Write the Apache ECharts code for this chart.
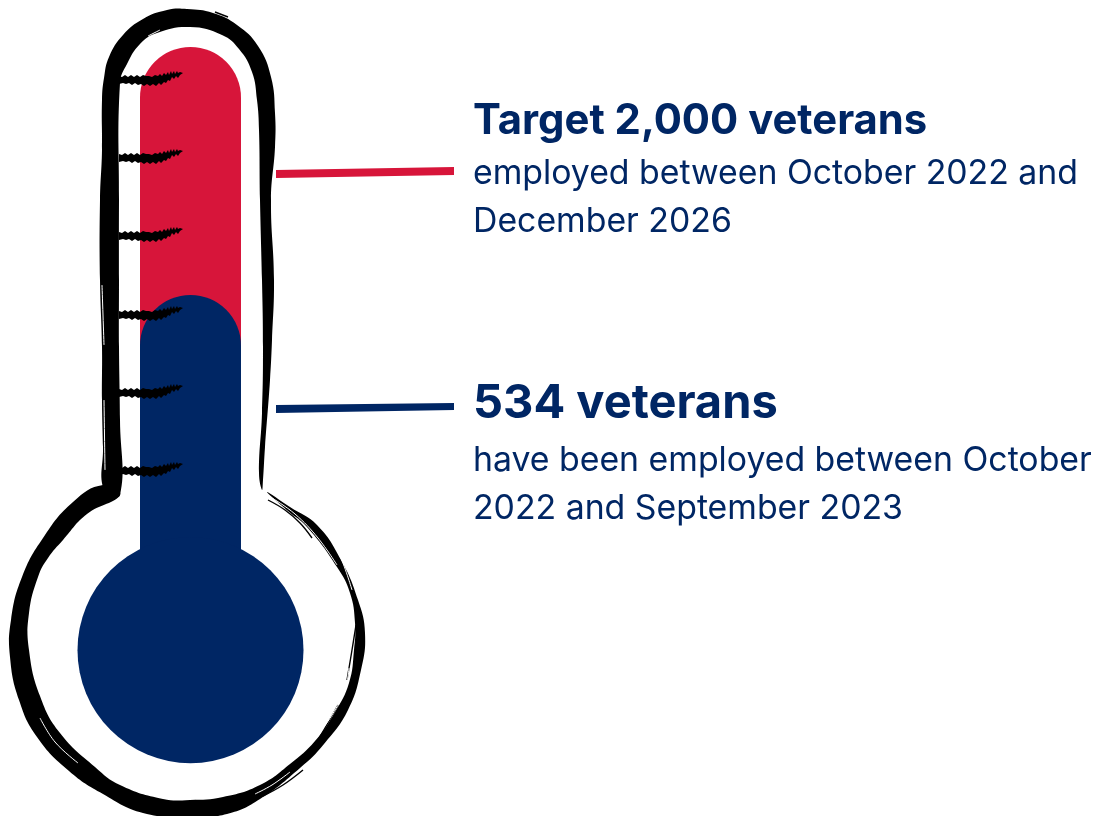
<!DOCTYPE html>
<html>
<head>
<meta charset="utf-8">
<title>Veterans employment thermometer</title>
<style>
  html, body { margin: 0; padding: 0; background: #fff; }
  #chart { width: 1095px; height: 816px; }
</style>
<script src="https://cdn.jsdelivr.net/npm/echarts@6/dist/echarts.min.js"></script>
</head>
<body>
<div id="chart"></div>
<script>
// Headline figures
var seriesNames = ['Target', 'Employed so far'];
var seriesValues = [2000, 534];
var categories = ['Veterans'];

// Value scale of the tube; the bulb sits below the zero line
var axisMin = -2232;
var axisMax = 2000;
var bulbCentre = -1565;

// Copy beside the thermometer
var targetLines = ['Target 2,000 veterans', 'employed between October 2022 and', 'December 2026'];
var currentLines = ['534 veterans', 'have been employed between October', '2022 and September 2023'];

var NAVY = '#002664';
var RED = '#D7153A';
var INK = '#000000';
var FONT = 'Inter, "Noto Sans", sans-serif';
var TUBE_WIDTH = 101;

// Brush outline of the tube, outer edge then inner edge
var tubeOutline = [
  [104,490],[103,447],[102,400],[102,347],[100,280],[100,200],[102,150],[102,100],[104,78],[109,57],[123,35],[143,19],
  [167,10],[187,9],[213,13],[237,25],[258,46],[271,77],[275,113],[275,147],[271,200],[274,280],[272,340],[270,380],
  [265,447],[263,480],[262,490],
  [259,473],[262,413],[263,347],[262,280],[260,200],[259,130],[257,100],[252,72],[239,49],[222,35],[190,27],[157,33],
  [140,44],[127,64],[120,83],[119,200],[119,280],[119,347],[120,420],[120,495]
];

// Brush outline of the bulb, outer edge then inner edge
var bulbOutline = [
  [103,485],[73,502],[43,538],[22,577],[11,620],[10,657],[19,700],[37,737],[69,771],[103,794],[143,813],
  [190,817],[227,814],[260,799],[300,768],[324,744],[348,710],[361,670],[365,633],[358,600],[341,560],
  [317,525],[290,507],[267,492],
  [288,511],[307,527],[337,567],[350,593],[355,623],[354,650],[349,683],[335,712],[315,741],[290,764],
  [260,785],[223,797],[190,800],[163,799],[120,785],[95,767],[60,733],[40,696],[29,650],[29,613],[38,577],
  [48,558],[63,540],[87,514],[120,495]
];

// Loose bristle strands that stray off the main stroke
var strayStrands = [
  [[268,500],[285,510],[300,523],[312,538]],
  [[314,526],[327,545],[338,565]],
  [[356,625],[352,650],[347,680]],
  [[338,705],[325,728],[315,745]],
  [[303,770],[283,785],[263,796]],
  [[263,150],[262,170]],
  [[215,12],[228,17]]
];

// Dry-brush streaks cut out of the strokes
var brushStreaks = [
  [[272,498],[295,514],[318,538],[337,565]],
  [[325,530],[340,556],[352,590]],
  [[349,668],[345,690],[332,715],[318,735]],
  [[290,772],[272,785],[255,794]],
  [[40,718],[55,742],[78,763]],
  [[102,285],[104,345]],
  [[104,400],[105,470]],
  [[148,36],[160,30]]
];

// Jagged scale mark, top edge left to right then bottom edge back
var tickShape = [
  [0,-4],[3,-3],[6,-5],[9,-3],[12,-5],[15,-3],[18,-5],[21,-3],[24,-5],[27,-4],[30,-4],[33,-3],[36,-5],[39,-4],
  [41,-6],[43,-4],[45,-7],[47,-5],[49,-8],[50,-5],[52,-9],[53,-6],[55,-9],[56,-6],[58,-9],[59,-7],[61,-8],[64,-7],
  [61,-5],[59,-2],[57,-4],[55,-1],[53,-3],[51,1],[49,0],[47,3],[45,2],[42,5],[40,3],[37,6],[34,4],[31,6],[28,4],
  [25,6],[22,4],[19,5],[16,3],[13,5],[10,3],[7,4],[4,3],[0,4]
];
var tickRows = [80, 158, 236, 315, 393, 471];

var graphics = [];
graphics.push({ type: 'polygon', z: 10, shape: { points: tubeOutline, smooth: 0.45 }, style: { fill: INK } });
graphics.push({ type: 'polygon', z: 10, shape: { points: bulbOutline, smooth: 0.45 }, style: { fill: INK } });
strayStrands.forEach(function (pts) {
  graphics.push({ type: 'polyline', z: 10, shape: { points: pts, smooth: 0.4 },
    style: { stroke: INK, lineWidth: 1.4, fill: null } });
});
brushStreaks.forEach(function (pts) {
  graphics.push({ type: 'polyline', z: 11, shape: { points: pts, smooth: 0.4 },
    style: { stroke: '#fff', lineWidth: 1, fill: null } });
});
tickRows.forEach(function (y) {
  graphics.push({ type: 'polygon', z: 12, x: 119, y: y, shape: { points: tickShape }, style: { fill: INK } });
});

// Leader lines from the tube to the captions
graphics.push({ type: 'polygon', z: 5, shape: { points: [[276,170],[454,167],[454,175],[276,178]] }, style: { fill: RED } });
graphics.push({ type: 'polygon', z: 5, shape: { points: [[276,405],[454,403],[454,410],[276,413]] }, style: { fill: NAVY } });

// Each entry: text line, top of its box, font
function caption(lines, tops, headSize) {
  lines.forEach(function (text, i) {
    graphics.push({
      type: 'text', z: 5, x: 473, y: tops[i],
      style: {
        text: text, fill: NAVY, verticalAlign: 'top', align: 'left',
        font: (i === 0 ? '700 ' + headSize + 'px ' : '400 33.8px ') + FONT
      }
    });
  });
}
caption(targetLines, [100, 157, 205], 41.8);
caption(currentLines, [380, 444, 492], 47);

// Rounded tube running from the bulb centre up to the value
function renderTube(params, api) {
  var top = api.coord([api.value(0), api.value(1)]);
  var base = api.coord([api.value(0), bulbCentre]);
  return {
    type: 'rect',
    shape: {
      x: top[0] - TUBE_WIDTH / 2, y: top[1], width: TUBE_WIDTH, height: base[1] - top[1],
      r: [TUBE_WIDTH / 2, TUBE_WIDTH / 2, 0, 0]
    },
    style: { fill: params.dataIndex === 0 ? RED : NAVY }
  };
}

var chart = echarts.init(document.getElementById('chart'));
chart.setOption({
  animation: false,
  backgroundColor: '#fff',
  grid: { left: 78, width: 225, top: 47, height: 716 },
  xAxis: { type: 'category', data: categories, show: false },
  yAxis: { type: 'value', min: axisMin, max: axisMax, show: false },
  series: [
    {
      name: seriesNames.join(' / '), type: 'custom', renderItem: renderTube, clip: false,
      data: seriesValues.map(function (v) { return [0, v]; }),
      encode: { x: 0, y: 1 }
    },
    {
      name: 'Bulb', type: 'scatter', data: [[0, bulbCentre]], symbolSize: 226, clip: false,
      itemStyle: { color: NAVY, opacity: 1 }, silent: true
    }
  ],
  graphic: { elements: graphics }
});
</script>
</body>
</html>
